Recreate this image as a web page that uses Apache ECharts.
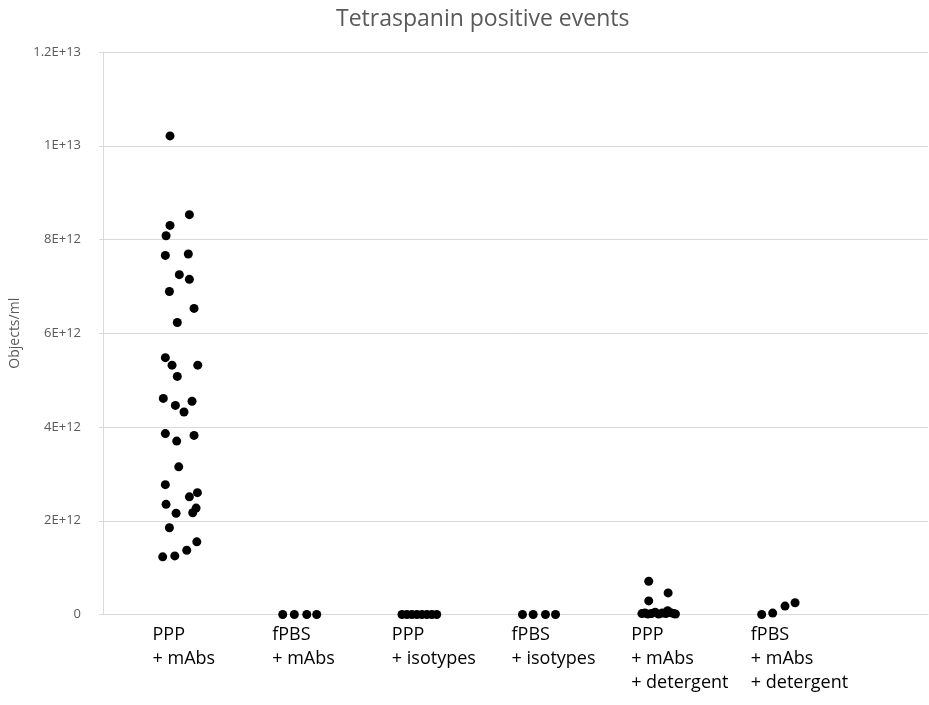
<!DOCTYPE html>
<html>
<head>
<meta charset="utf-8">
<script src="https://cdn.jsdelivr.net/npm/echarts@6/dist/echarts.min.js"></script>
<style>html,body{margin:0;padding:0;background:#fff}#c{width:929px;height:705px}</style>
</head>
<body>
<div id="c"></div>
<script>
const titleText = 'Tetraspanin positive events';
const yAxisName = 'Objects/ml';
const categories = ['PPP\n+ mAbs', 'fPBS\n+ mAbs', 'PPP\n+ isotypes', 'fPBS\n+ isotypes', 'PPP\n+ mAbs\n+ detergent', 'fPBS\n+ mAbs\n+ detergent'];
const yTicks = [0, 2e12, 4e12, 6e12, 8e12, 1e13, 1.2e13];

// values in units of 1E+12 objects/ml, with horizontal jitter (fraction of category spacing)
const ppMabsJitter = [-0.084,0.078,-0.084,-0.117,0.069,-0.123,-0.006,0.078,-0.089,0.117,-0.023,-0.123,-0.067,0.148,-0.023,-0.140,0.100,-0.039,0.033,-0.123,0.117,-0.028,-0.011,-0.123,0.145,0.078,-0.117,0.134,0.106,-0.033,-0.089,0.140,0.056,-0.044,-0.145];
const ppMabsValues = [10.21,8.53,8.30,8.08,7.69,7.66,7.25,7.15,6.89,6.53,6.23,5.48,5.32,5.32,5.08,4.61,4.55,4.46,4.32,3.86,3.82,3.70,3.15,2.77,2.60,2.51,2.35,2.27,2.17,2.16,1.85,1.55,1.37,1.25,1.23];
const fpbsMabsJitter = [-0.142,-0.045,0.059,0.142];
const fpbsMabsValues = [0,0,0,0];
const ppIsoJitter = [-0.145,-0.104,-0.063,-0.021,0.021,0.063,0.104,0.145];
const ppIsoValues = [0,0,0,0,0,0,0,0];
const fpbsIsoJitter = [-0.138,-0.049,0.054,0.138];
const fpbsIsoValues = [0,0,0,0];
const ppDetJitter = [-0.083,0.079,-0.083,-0.140,-0.115,-0.090,-0.060,-0.030,0.000,0.030,0.060,0.075,0.100,0.125,0.140];
const ppDetValues = [0.71,0.46,0.29,0.02,0.03,0.01,0.02,0.05,0.01,0.03,0.02,0.08,0.04,0.02,0.01];
const fpbsDetJitter = [-0.139,-0.047,0.056,0.140];
const fpbsDetValues = [0,0.03,0.18,0.25];

const groups = [
  [ppMabsJitter, ppMabsValues],
  [fpbsMabsJitter, fpbsMabsValues],
  [ppIsoJitter, ppIsoValues],
  [fpbsIsoJitter, fpbsIsoValues],
  [ppDetJitter, ppDetValues],
  [fpbsDetJitter, fpbsDetValues]
];
const points = [];
groups.forEach((g, gi) => {
  g[0].forEach((dx, k) => points.push([gi + 1 + dx, g[1][k] * 1e12]));
});

const LABEL_SHIFT = 0.23;
function fmtY(v) {
  if (v === 0) return '0';
  const e = Math.floor(Math.log10(v) + 1e-9);
  const m = parseFloat((v / Math.pow(10, e)).toFixed(3));
  return m + 'E+' + e;
}

const chart = echarts.init(document.getElementById('c'), null, {renderer: 'canvas'});
chart.setOption({
  animation: false,
  backgroundColor: '#fff',
  title: {
    text: titleText, left: 331, top: 3,
    textStyle: {fontFamily: 'Open Sans', fontSize: 23, fontWeight: 'normal', color: '#595959'}
  },
  grid: {left: 103, right: 1, top: 52, bottom: 90.5, containLabel: false, outerBoundsMode: 'none'},
  xAxis: {
    type: 'value', min: 0.356, max: 7.251,
    axisLine: {show: true, onZero: true, lineStyle: {color: '#d9d9d9', width: 1}},
    axisTick: {show: false},
    splitLine: {show: false},
    axisLabel: {
      customValues: categories.map((c, i) => i + 1 - LABEL_SHIFT),
      formatter: v => categories[Math.round(v + LABEL_SHIFT) - 1] || '',
      align: 'left', verticalAlign: 'top',
      fontFamily: 'Open Sans', fontSize: 18, lineHeight: 24, color: '#000', margin: 8
    }
  },
  yAxis: {
    type: 'value', min: 0, max: 1.2e13, interval: 2e12,
    name: yAxisName, nameLocation: 'middle', nameGap: 78,
    nameTextStyle: {fontFamily: 'Open Sans', fontSize: 14, color: '#595959'},
    axisLine: {show: true, lineStyle: {color: '#d9d9d9'}},
    axisTick: {show: true, inside: false, length: 4, lineStyle: {color: '#d9d9d9'}},
    splitLine: {show: true, lineStyle: {color: '#d9d9d9', width: 1}},
    axisLabel: {formatter: fmtY, fontFamily: 'Open Sans', fontSize: 13, color: '#595959', margin: 22}
  },
  series: [{
    type: 'scatter',
    data: points,
    symbol: 'circle',
    symbolSize: 9,
    itemStyle: {color: '#000', opacity: 1},
    emphasis: {disabled: true}
  }]
});
</script>
</body>
</html>
